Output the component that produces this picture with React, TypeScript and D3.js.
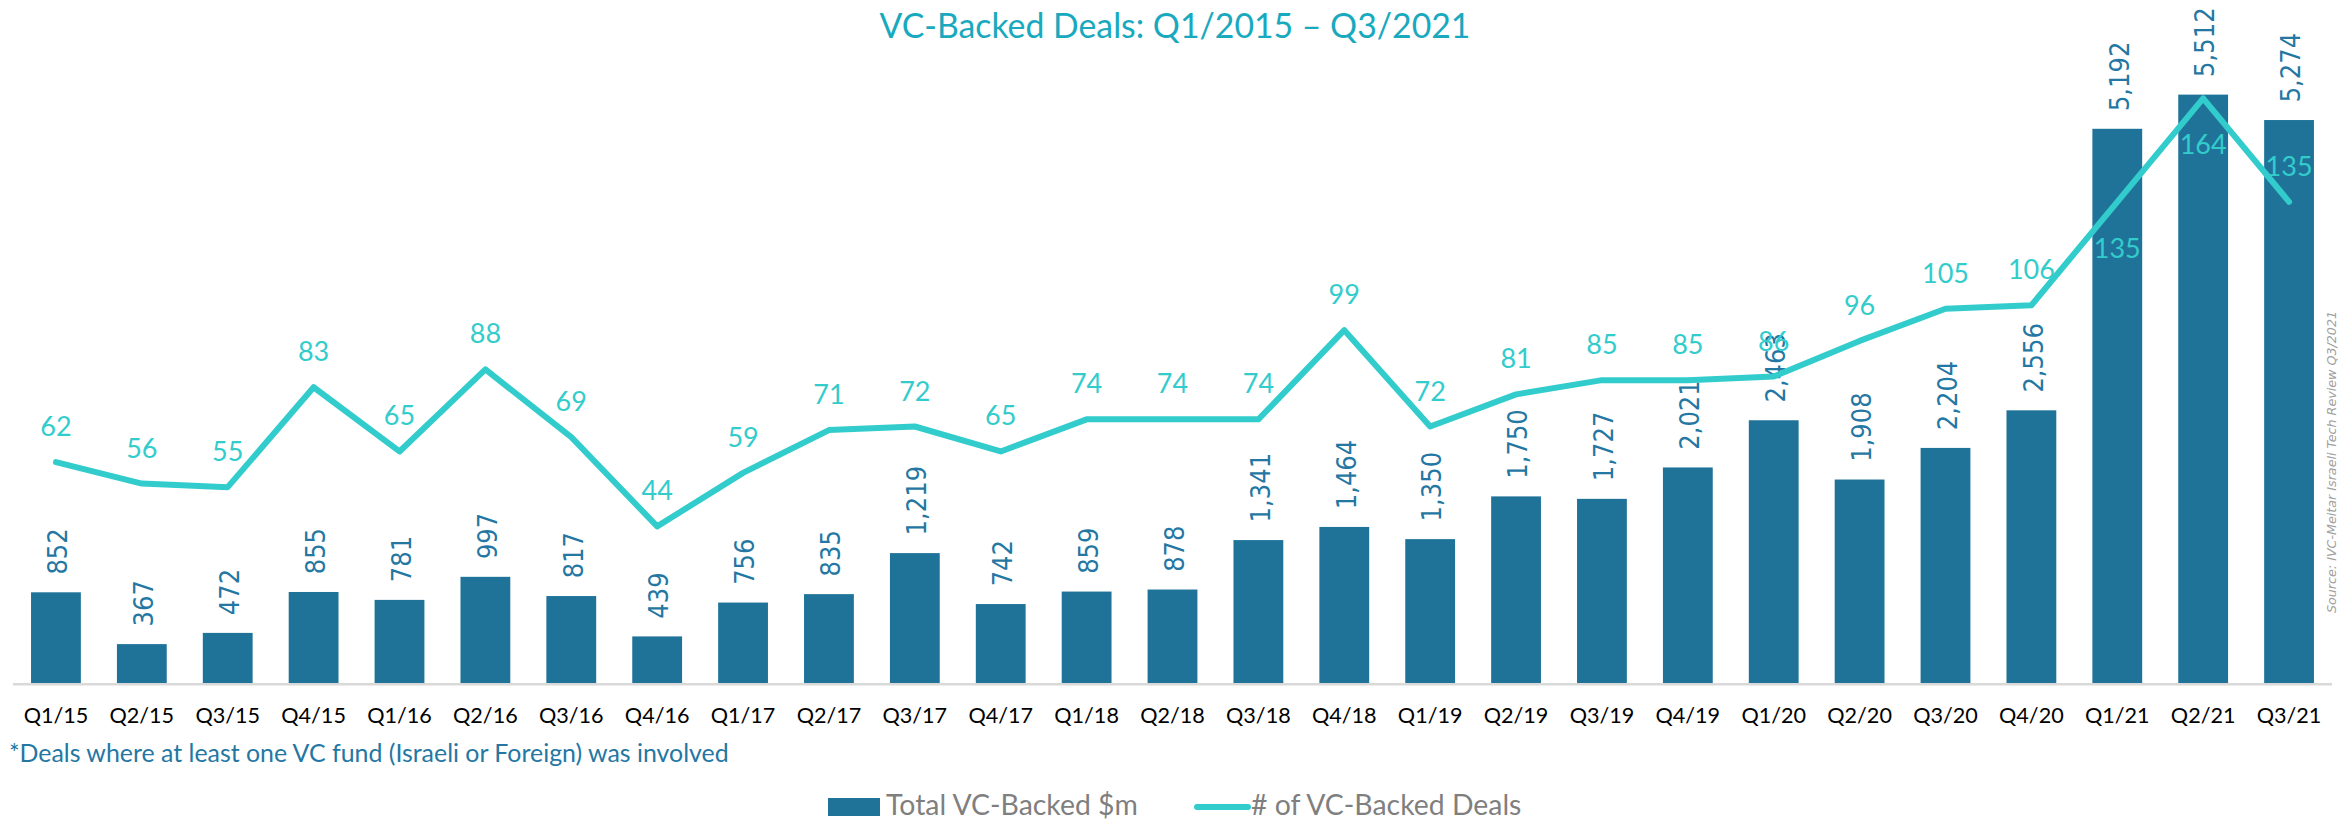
import React from "react";
import * as d3 from "d3";

const categories = [
  "Q1/15", "Q2/15", "Q3/15", "Q4/15",
  "Q1/16", "Q2/16", "Q3/16", "Q4/16",
  "Q1/17", "Q2/17", "Q3/17", "Q4/17",
  "Q1/18", "Q2/18", "Q3/18", "Q4/18",
  "Q1/19", "Q2/19", "Q3/19", "Q4/19",
  "Q1/20", "Q2/20", "Q3/20", "Q4/20",
  "Q1/21", "Q2/21", "Q3/21",
];

const totalVC = [
  852, 367, 472, 855, 781, 997, 817, 439, 756, 835, 1219, 742, 859, 878,
  1341, 1464, 1350, 1750, 1727, 2021, 2463, 1908, 2204, 2556, 5192, 5512, 5274,
];

const dealCount = [
  62, 56, 55, 83, 65, 88, 69, 44, 59, 71, 72, 65, 74, 74, 74, 99, 72, 81, 85,
  85, 86, 96, 105, 106, 135, 164, 135,
];

// label placement for the line series ("above" is default)
const dealLabelBelow = ["Q1/21", "Q2/21"];

const title = "VC-Backed Deals: Q1/2015 \u2013 Q3/2021";
const footnote = "*Deals where at least one VC fund (Israeli or Foreign) was involved";
const sourceText = "Source: IVC-Meitar Israeli Tech Review Q3/2021";
const legendBar = "Total VC-Backed $m";
const legendLine = "# of VC-Backed Deals";

const W = 2351;
const H = 821;
const BAR = "#1F7399";
const LINE = "#33CCCC";
const CAL = "Lato, 'Open Sans', sans-serif";

export default function App() {
  const x = d3
    .scaleBand<string>()
    .domain(categories)
    .range([13, 2332])
    .paddingInner(0.42)
    .paddingOuter(0.21);
  const base = 683.3;
  const yBar = d3.scaleLinear().domain([0, 6000]).range([base, 42.5]);
  const yLine = d3.scaleLinear().domain([0, 180]).range([base, 41.3]);
  const cx = (c: string) => (x(c) as number) + x.bandwidth() / 2;

  const line = d3
    .line<number>()
    .x((_, i) => cx(categories[i]))
    .y((d) => yLine(d));

  const fmt = d3.format(",");

  return (
    <svg
      width={W}
      height={H}
      style={{ position: "absolute", left: 0, top: 0, display: "block", background: "#fff" }}
    >
      <text
        x={1175}
        y={38}
        textAnchor="middle"
        fontFamily={CAL}
        fontSize={33.8}
        fill="#19A9BE"
      >
        {title}
      </text>

      {/* bars */}
      {categories.map((c, i) => (
        <rect
          key={"b" + c}
          x={x(c)}
          y={yBar(totalVC[i])}
          width={x.bandwidth()}
          height={base - yBar(totalVC[i])}
          fill={BAR}
        />
      ))}

      {/* axis line */}
      <line x1={13} x2={2332} y1={base + 1} y2={base + 1} stroke="#D9D9D9" strokeWidth={2.5} />

      {/* bar labels */}
      {categories.map((c, i) => {
        const tx = cx(c) + 1.5;
        const ty = yBar(totalVC[i]) - 17.7;
        return (
          <text
            key={"bl" + c}
            transform={`translate(${tx},${ty}) rotate(-90)`}
            dy="0.36em"
            fontFamily="'DejaVu Sans Condensed', 'DejaVu Sans', sans-serif"
            fontStretch="condensed"
            fontSize={27}
            fill="#2477A3"
          >
            {fmt(totalVC[i])}
          </text>
        );
      })}

      {/* line */}
      <path
        d={line(dealCount) || ""}
        fill="none"
        stroke={LINE}
        strokeWidth={6}
        strokeLinejoin="round"
        strokeLinecap="round"
      />

      {/* line labels */}
      {categories.map((c, i) => {
        const below = dealLabelBelow.includes(c);
        const py = yLine(dealCount[i]);
        return (
          <text
            key={"ll" + c}
            x={cx(c)}
            y={below ? py + 56 : py - 26}
            textAnchor="middle"
            fontFamily={CAL}
            fontSize={27}
            fill={LINE}
          >
            {dealCount[i]}
          </text>
        );
      })}

      {/* x tick labels */}
      {categories.map((c) => (
        <text
          key={"t" + c}
          x={cx(c)}
          y={723}
          textAnchor="middle"
          fontFamily={CAL}
          fontSize={21.6}
          fill="#000"
        >
          {c}
        </text>
      ))}

      {/* footnote */}
      <text x={9} y={762} fontFamily={CAL} fontSize={24.9} fill="#2477A3">
        {footnote}
      </text>

      {/* source */}
      <text
        transform={`translate(2336,613) rotate(-90)`}
        fontFamily="'DejaVu Sans', sans-serif"
        fontStyle="italic"
        fontSize={12.7}
        fill="#A0A0A0"
      >
        {sourceText}
      </text>

      {/* legend */}
      <rect x={828} y={798} width={52} height={18} fill={BAR} />
      <text x={886} y={815} fontFamily={CAL} fontSize={28.4} fill="#7F7F7F">
        {legendBar}
      </text>
      <line x1={1197} x2={1248} y1={807} y2={807} stroke={LINE} strokeWidth={6} strokeLinecap="round" />
      <text x={1251} y={815} fontFamily={CAL} fontSize={28.4} fill="#7F7F7F">
        {legendLine}
      </text>
    </svg>
  );
}
